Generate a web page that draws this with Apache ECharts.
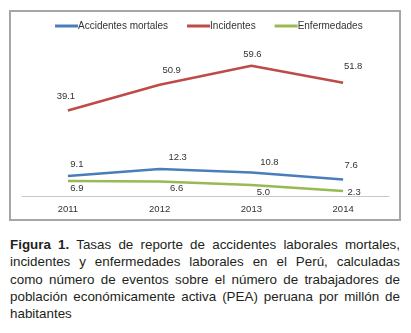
<!DOCTYPE html>
<html>
<head>
<meta charset="utf-8">
<script src="https://cdn.jsdelivr.net/npm/echarts@6/dist/echarts.min.js"></script>
<style>
  html, body { margin: 0; padding: 0; background: #fff; }
  .w { position: relative; width: 411px; height: 333px; }
  .chart { position: absolute; left: 0; top: 0; width: 411px; height: 228px; }
  .cap {
    position: absolute; left: 10px; top: 236px; width: 390px;
    font-family: "Liberation Sans", Arial, sans-serif; font-size: 13.4px;
    line-height: 17.3px; color: #231f20; text-align: justify;
  }
</style>
</head>
<body>
<div class="w">
  <div class="chart" id="main"></div>
  <div class="cap"><b>Figura 1.</b> Tasas de reporte de accidentes laborales mortales, incidentes y enfermedades laborales en el Perú, calculadas como número de eventos sobre el número de trabajadores de población económicamente activa (PEA) peruana por millón de habitantes</div>
</div>
<script>
// datos
const years = ['2011', '2012', '2013', '2014']
const mortales = [9.1, 12.3, 10.8, 7.6]
const incidentes = [39.1, 50.9, 59.6, 51.8]
const enfermedades = [6.9, 6.6, 5.0, 2.3]

// desplazamiento de las etiquetas (como en el grafico de Excel)
const shiftMortales = [[9, -12], [18, -12], [18, -10], [8, -14]]
const shiftIncidentes = [[-2, -14], [12, -14], [1, -11], [10, -16]]
const shiftEnfermedades = [[9, 7], [17, 7], [12, 7], [11, 1]]

const myChart = echarts.init(document.getElementById('main'))

const font = 'Liberation Sans, Arial, sans-serif'

function line (name, data, shifts, color) {
  return {
    name: name,
    type: 'line',
    symbol: 'circle',
    symbolSize: 0,
    showSymbol: true,
    lineStyle: { color: color, width: 2.5 },
    itemStyle: { color: color },
    label: {
      show: true,
      position: 'inside',
      fontFamily: font,
      fontSize: 9.5,
      color: '#333',
      formatter: p => p.value.toFixed(1)
    },
    data: data.map((v, i) => ({ value: v, label: { offset: shifts[i] } }))
  }
}

const option = {
  animation: false,
  backgroundColor: '#fff',
  graphic: [{
    type: 'rect',
    shape: { x: 10, y: 11, width: 390, height: 209 },
    style: { fill: 'none', stroke: '#a6a6a6', lineWidth: 2 }
  }],
  legend: {
    top: 21,
    left: 55,
    padding: 0,
    itemWidth: 23,
    itemHeight: 3,
    itemGap: 19,
    icon: 'rect',
    textStyle: { fontFamily: font, fontSize: 10, color: '#333', padding: [0, 0, 0, -5] },
    data: ['Accidentes mortales', 'Incidentes', 'Enfermedades']
  },
  grid: {
    left: 22,
    right: 22,
    top: 43,
    bottom: 32
  },
  xAxis: {
    type: 'category',
    data: years,
    boundaryGap: true,
    axisLine: { lineStyle: { color: '#c8c8c8', width: 1 } },
    axisTick: { show: false },
    axisLabel: { fontFamily: font, fontSize: 9.5, color: '#333', margin: 8 }
  },
  yAxis: {
    type: 'value',
    min: 0,
    max: 70,
    show: false,
    splitLine: { show: false }
  },
  series: [
    line('Accidentes mortales', mortales, shiftMortales, '#4a7ebb'),
    line('Incidentes', incidentes, shiftIncidentes, '#be4b48'),
    line('Enfermedades', enfermedades, shiftEnfermedades, '#98b954')
  ]
}

myChart.setOption(option)
window.addEventListener('resize', () => {
  myChart.resize()
})
</script>
</body>
</html>
